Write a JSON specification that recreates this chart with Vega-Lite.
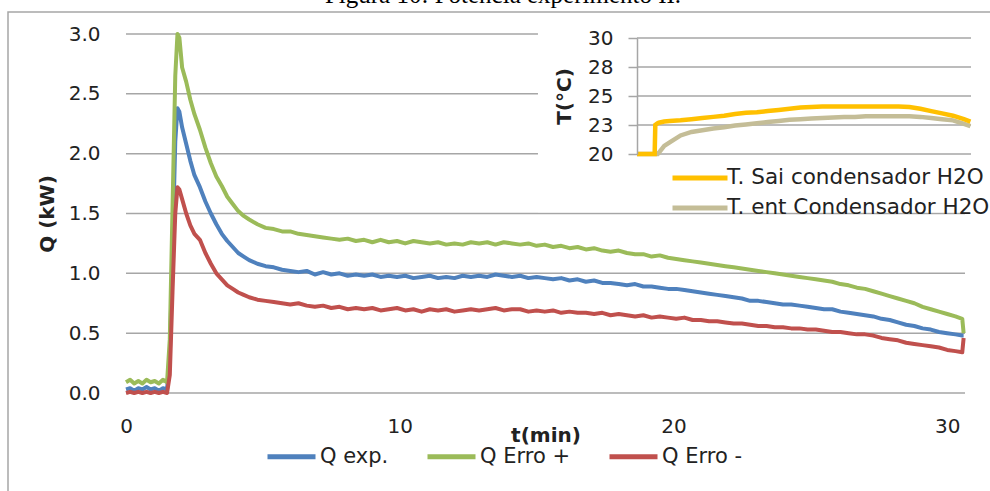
{
  "$schema": "https://vega.github.io/schema/vega-lite/v6.json",
  "width": 990,
  "height": 491,
  "autosize": "none",
  "padding": {"left": 8, "top": 12, "right": -8, "bottom": -12},
  "background": "white",
  "title": {"text": "Figura 10: Potência experimento II.", "font": "Liberation Serif", "fontSize": 25, "fontWeight": "normal", "color": "#000000", "frame": "group", "anchor": "middle", "offset": 0, "dy": 16, "baseline": "alphabetic"},
  "config": {
    "view": {"stroke": "#a6a6a6", "strokeWidth": 1.5},
    "font": "DejaVu Sans",
    "axis": {"labelFont": "DejaVu Sans", "labelFontSize": 20, "labelColor": "#222222", "titleFont": "DejaVu Sans", "titleFontSize": 20, "titleColor": "#222222", "titleFontWeight": "bold"},
    "legend": {"labelFont": "DejaVu Sans", "labelFontSize": 21, "labelColor": "#222222", "labelLimit": 400}
  },
  "datasets": {
    "q": [
      {"t": 0.0, "e": 0.03, "p": 0.09, "m": 0.00},
      {"t": 0.15, "e": 0.04, "p": 0.11, "m": 0.01},
      {"t": 0.3, "e": 0.02, "p": 0.08, "m": 0.00},
      {"t": 0.45, "e": 0.04, "p": 0.10, "m": 0.01},
      {"t": 0.6, "e": 0.03, "p": 0.08, "m": 0.00},
      {"t": 0.75, "e": 0.05, "p": 0.11, "m": 0.01},
      {"t": 0.9, "e": 0.03, "p": 0.09, "m": 0.00},
      {"t": 1.05, "e": 0.04, "p": 0.10, "m": 0.01},
      {"t": 1.2, "e": 0.02, "p": 0.08, "m": 0.00},
      {"t": 1.35, "e": 0.04, "p": 0.11, "m": 0.01},
      {"t": 1.5, "e": 0.03, "p": 0.09, "m": 0.00},
      {"t": 1.6, "e": 0.30, "p": 0.45, "m": 0.15},
      {"t": 1.7, "e": 1.20, "p": 1.55, "m": 0.85},
      {"t": 1.8, "e": 2.10, "p": 2.65, "m": 1.50},
      {"t": 1.88, "e": 2.38, "p": 3.00, "m": 1.72},
      {"t": 1.95, "e": 2.35, "p": 2.97, "m": 1.70},
      {"t": 2.05, "e": 2.22, "p": 2.72, "m": 1.62},
      {"t": 2.2, "e": 2.08, "p": 2.60, "m": 1.50},
      {"t": 2.35, "e": 1.94, "p": 2.45, "m": 1.40},
      {"t": 2.5, "e": 1.82, "p": 2.33, "m": 1.33},
      {"t": 2.7, "e": 1.72, "p": 2.20, "m": 1.28},
      {"t": 2.9, "e": 1.60, "p": 2.05, "m": 1.17},
      {"t": 3.1, "e": 1.50, "p": 1.92, "m": 1.08},
      {"t": 3.3, "e": 1.41, "p": 1.81, "m": 1.00},
      {"t": 3.5, "e": 1.33, "p": 1.73, "m": 0.95},
      {"t": 3.7, "e": 1.27, "p": 1.64, "m": 0.90},
      {"t": 3.9, "e": 1.22, "p": 1.58, "m": 0.87},
      {"t": 4.1, "e": 1.17, "p": 1.52, "m": 0.84},
      {"t": 4.3, "e": 1.14, "p": 1.48, "m": 0.82},
      {"t": 4.5, "e": 1.11, "p": 1.45, "m": 0.80},
      {"t": 4.8, "e": 1.08, "p": 1.41, "m": 0.78},
      {"t": 5.1, "e": 1.06, "p": 1.38, "m": 0.77},
      {"t": 5.4, "e": 1.05, "p": 1.37, "m": 0.76},
      {"t": 5.7, "e": 1.03, "p": 1.35, "m": 0.75},
      {"t": 6.0, "e": 1.02, "p": 1.35, "m": 0.74},
      {"t": 6.3, "e": 1.01, "p": 1.33, "m": 0.75},
      {"t": 6.6, "e": 1.02, "p": 1.32, "m": 0.73},
      {"t": 6.9, "e": 0.99, "p": 1.31, "m": 0.72},
      {"t": 7.2, "e": 1.01, "p": 1.30, "m": 0.73},
      {"t": 7.5, "e": 0.99, "p": 1.29, "m": 0.71},
      {"t": 7.8, "e": 1.00, "p": 1.28, "m": 0.72},
      {"t": 8.1, "e": 0.98, "p": 1.29, "m": 0.70},
      {"t": 8.4, "e": 0.99, "p": 1.27, "m": 0.71},
      {"t": 8.7, "e": 0.98, "p": 1.28, "m": 0.70},
      {"t": 9.0, "e": 0.99, "p": 1.26, "m": 0.71},
      {"t": 9.3, "e": 0.97, "p": 1.28, "m": 0.69},
      {"t": 9.6, "e": 0.98, "p": 1.26, "m": 0.70},
      {"t": 9.9, "e": 0.97, "p": 1.27, "m": 0.71},
      {"t": 10.2, "e": 0.98, "p": 1.25, "m": 0.69},
      {"t": 10.5, "e": 0.96, "p": 1.27, "m": 0.70},
      {"t": 10.8, "e": 0.97, "p": 1.26, "m": 0.68},
      {"t": 11.1, "e": 0.98, "p": 1.25, "m": 0.70},
      {"t": 11.4, "e": 0.96, "p": 1.26, "m": 0.69},
      {"t": 11.7, "e": 0.97, "p": 1.24, "m": 0.70},
      {"t": 12.0, "e": 0.96, "p": 1.25, "m": 0.68},
      {"t": 12.3, "e": 0.98, "p": 1.24, "m": 0.69},
      {"t": 12.6, "e": 0.97, "p": 1.26, "m": 0.70},
      {"t": 12.9, "e": 0.98, "p": 1.25, "m": 0.69},
      {"t": 13.2, "e": 0.97, "p": 1.26, "m": 0.70},
      {"t": 13.5, "e": 0.99, "p": 1.24, "m": 0.71},
      {"t": 13.8, "e": 0.98, "p": 1.26, "m": 0.69},
      {"t": 14.1, "e": 0.97, "p": 1.25, "m": 0.70},
      {"t": 14.4, "e": 0.98, "p": 1.24, "m": 0.70},
      {"t": 14.7, "e": 0.96, "p": 1.25, "m": 0.68},
      {"t": 15.0, "e": 0.97, "p": 1.23, "m": 0.69},
      {"t": 15.3, "e": 0.96, "p": 1.24, "m": 0.68},
      {"t": 15.6, "e": 0.95, "p": 1.22, "m": 0.69},
      {"t": 15.9, "e": 0.96, "p": 1.23, "m": 0.67},
      {"t": 16.2, "e": 0.94, "p": 1.21, "m": 0.68},
      {"t": 16.5, "e": 0.95, "p": 1.22, "m": 0.67},
      {"t": 16.8, "e": 0.93, "p": 1.20, "m": 0.67},
      {"t": 17.1, "e": 0.94, "p": 1.21, "m": 0.66},
      {"t": 17.4, "e": 0.92, "p": 1.19, "m": 0.67},
      {"t": 17.7, "e": 0.92, "p": 1.18, "m": 0.65},
      {"t": 18.0, "e": 0.91, "p": 1.19, "m": 0.66},
      {"t": 18.3, "e": 0.90, "p": 1.17, "m": 0.65},
      {"t": 18.6, "e": 0.91, "p": 1.16, "m": 0.64},
      {"t": 18.9, "e": 0.89, "p": 1.16, "m": 0.65},
      {"t": 19.2, "e": 0.89, "p": 1.14, "m": 0.63},
      {"t": 19.5, "e": 0.88, "p": 1.15, "m": 0.64},
      {"t": 19.8, "e": 0.87, "p": 1.13, "m": 0.63},
      {"t": 20.1, "e": 0.87, "p": 1.12, "m": 0.62},
      {"t": 20.4, "e": 0.86, "p": 1.11, "m": 0.63},
      {"t": 20.7, "e": 0.85, "p": 1.10, "m": 0.61},
      {"t": 21.0, "e": 0.84, "p": 1.09, "m": 0.61},
      {"t": 21.3, "e": 0.83, "p": 1.08, "m": 0.60},
      {"t": 21.6, "e": 0.82, "p": 1.07, "m": 0.60},
      {"t": 21.9, "e": 0.81, "p": 1.06, "m": 0.59},
      {"t": 22.2, "e": 0.80, "p": 1.05, "m": 0.58},
      {"t": 22.5, "e": 0.79, "p": 1.04, "m": 0.58},
      {"t": 22.8, "e": 0.77, "p": 1.03, "m": 0.57},
      {"t": 23.1, "e": 0.77, "p": 1.02, "m": 0.56},
      {"t": 23.4, "e": 0.76, "p": 1.01, "m": 0.56},
      {"t": 23.7, "e": 0.75, "p": 1.00, "m": 0.55},
      {"t": 24.0, "e": 0.74, "p": 0.99, "m": 0.55},
      {"t": 24.3, "e": 0.74, "p": 0.98, "m": 0.54},
      {"t": 24.6, "e": 0.73, "p": 0.97, "m": 0.54},
      {"t": 24.9, "e": 0.72, "p": 0.96, "m": 0.53},
      {"t": 25.2, "e": 0.71, "p": 0.95, "m": 0.53},
      {"t": 25.5, "e": 0.70, "p": 0.94, "m": 0.52},
      {"t": 25.8, "e": 0.70, "p": 0.93, "m": 0.51},
      {"t": 26.1, "e": 0.68, "p": 0.91, "m": 0.51},
      {"t": 26.4, "e": 0.67, "p": 0.90, "m": 0.50},
      {"t": 26.7, "e": 0.66, "p": 0.88, "m": 0.49},
      {"t": 27.0, "e": 0.65, "p": 0.87, "m": 0.49},
      {"t": 27.3, "e": 0.64, "p": 0.85, "m": 0.48},
      {"t": 27.6, "e": 0.62, "p": 0.83, "m": 0.46},
      {"t": 27.9, "e": 0.61, "p": 0.81, "m": 0.45},
      {"t": 28.2, "e": 0.59, "p": 0.79, "m": 0.44},
      {"t": 28.5, "e": 0.57, "p": 0.77, "m": 0.42},
      {"t": 28.8, "e": 0.56, "p": 0.75, "m": 0.41},
      {"t": 29.1, "e": 0.54, "p": 0.72, "m": 0.40},
      {"t": 29.4, "e": 0.53, "p": 0.70, "m": 0.39},
      {"t": 29.7, "e": 0.51, "p": 0.68, "m": 0.38},
      {"t": 30.0, "e": 0.50, "p": 0.66, "m": 0.36},
      {"t": 30.3, "e": 0.49, "p": 0.64, "m": 0.35},
      {"t": 30.55, "e": 0.48, "p": 0.62, "m": 0.34},
      {"t": 30.6, "e": 0.48, "p": 0.50, "m": 0.46}
    ],
    "qg": [{"g": 0}, {"g": 0.5}, {"g": 1}, {"g": 1.5}, {"g": 2}, {"g": 2.5}, {"g": 3}],
    "tt": [
      {"t": 0, "s": 20.0, "n": 20.0},
      {"t": 1.5, "s": 20.0, "n": 20.0},
      {"t": 1.62, "s": 20.0, "n": 20.0},
      {"t": 1.68, "s": 22.5, "n": 20.0},
      {"t": 1.9, "s": 22.65, "n": 20.0},
      {"t": 2.0, "s": 22.7, "n": 20.1},
      {"t": 2.5, "s": 22.8, "n": 20.7},
      {"t": 3.0, "s": 22.85, "n": 21.0},
      {"t": 4, "s": 22.9, "n": 21.6},
      {"t": 5, "s": 23.0, "n": 21.9},
      {"t": 6, "s": 23.1, "n": 22.05},
      {"t": 7, "s": 23.2, "n": 22.2},
      {"t": 8, "s": 23.3, "n": 22.3},
      {"t": 9, "s": 23.45, "n": 22.45},
      {"t": 10, "s": 23.55, "n": 22.55},
      {"t": 11, "s": 23.6, "n": 22.65},
      {"t": 12, "s": 23.7, "n": 22.75},
      {"t": 13, "s": 23.8, "n": 22.85},
      {"t": 14, "s": 23.9, "n": 22.95},
      {"t": 15, "s": 24.0, "n": 23.0},
      {"t": 16, "s": 24.05, "n": 23.05},
      {"t": 17, "s": 24.1, "n": 23.1},
      {"t": 18, "s": 24.1, "n": 23.15},
      {"t": 19, "s": 24.1, "n": 23.2},
      {"t": 20, "s": 24.1, "n": 23.2},
      {"t": 21, "s": 24.1, "n": 23.25},
      {"t": 22, "s": 24.1, "n": 23.25},
      {"t": 23, "s": 24.1, "n": 23.25},
      {"t": 24, "s": 24.1, "n": 23.25},
      {"t": 25, "s": 24.05, "n": 23.25},
      {"t": 26, "s": 23.9, "n": 23.2},
      {"t": 27, "s": 23.7, "n": 23.1},
      {"t": 28, "s": 23.5, "n": 23.0},
      {"t": 29, "s": 23.3, "n": 22.9},
      {"t": 30, "s": 23.0, "n": 22.6},
      {"t": 30.6, "s": 22.8, "n": 22.4}
    ],
    "tg": [{"g": 20}, {"g": 22.5}, {"g": 25}, {"g": 27.5}, {"g": 30}]
  },
  "layer": [
    {
      "layer": [
        {
          "data": {"name": "qg"},
          "mark": {"type": "rule", "color": "#a6a6a6", "strokeWidth": 1.5},
          "encoding": {
            "y": {"field": "g", "type": "quantitative"},
            "x": {"datum": 0},
            "x2": {"datum": 30.65}
          }
        },
        {
          "data": {"values": [{"r": 1}]},
          "mark": {"type": "rect", "fill": "white", "stroke": null},
          "encoding": {
            "x": {"datum": 15.05},
            "x2": {"datum": 31.5},
            "y": {"datum": 1.51},
            "y2": {"datum": 3.15}
          }
        },
        {
          "data": {"name": "q"},
          "transform": [{"fold": ["e", "p", "m"], "as": ["s", "v"]}],
          "mark": {"type": "line", "strokeWidth": 4, "strokeJoin": "round"},
          "encoding": {
            "x": {"field": "t", "type": "quantitative",
              "scale": {"domain": [0, 30.65], "range": [118, 957], "nice": false, "zero": false},
              "axis": {"title": "t(min)", "orient": "bottom", "offset": -110, "values": [0, 10, 20, 30], "domain": false, "ticks": false, "grid": false, "labelPadding": 23, "labelBaseline": "top", "labelFlush": false, "titleY": 42, "titleBaseline": "middle", "zindex": 1}},
            "y": {"field": "v", "type": "quantitative",
              "scale": {"domain": [0, 3], "range": [381, 22], "nice": false, "zero": false},
              "axis": {"title": "Q (kW)", "orient": "left", "offset": -118, "values": [0, 0.5, 1, 1.5, 2, 2.5, 3], "format": ".1f", "domain": false, "ticks": false, "grid": false, "labelPadding": 26, "titleX": -79, "titleAngle": -90, "titleBaseline": "middle", "zindex": 1}},
            "color": {"field": "s", "type": "nominal",
              "scale": {"domain": ["e", "p", "m"], "range": ["#4F81BD", "#9BBB59", "#C0504D"]},
              "legend": {"title": null, "orient": "none", "legendX": 257, "legendY": 418, "direction": "horizontal", "symbolType": "stroke", "symbolSize": 2304, "symbolStrokeWidth": 5, "labelOffset": 2, "columnPadding": 28, "padding": 0,
                "labelExpr": "datum.label == 'e' ? 'Q exp.' : datum.label == 'p' ? 'Q Erro +' : 'Q Erro -'"}}
          }
        }
      ]
    },
    {
      "layer": [
        {
          "data": {"name": "tg"},
          "mark": {"type": "rule", "color": "#a6a6a6", "strokeWidth": 1.5},
          "encoding": {
            "y": {"field": "g", "type": "quantitative"},
            "x": {"datum": 0, "axis": null},
            "x2": {"datum": 30.65}
          }
        },
        {
          "data": {"name": "tt"},
          "mark": {"type": "line", "strokeWidth": 4.5},
          "encoding": {
            "x": {"field": "t", "type": "quantitative",
              "scale": {"domain": [0, 30.65], "range": [629, 963], "nice": false, "zero": false},
              "axis": null},
            "y": {"field": "n", "type": "quantitative",
              "scale": {"domain": [20, 30], "range": [142, 26], "nice": false, "zero": false},
              "axis": {"title": "T(°C)", "orient": "left", "offset": -629, "values": [20, 22.5, 25, 27.5, 30], "format": ".0f", "domain": true, "domainColor": "#a6a6a6", "domainWidth": 1.5, "ticks": true, "tickSize": 9, "tickColor": "#a6a6a6", "tickWidth": 1.5, "grid": false, "labelPadding": 15, "titleX": -73, "titleAngle": -90, "titleBaseline": "middle", "zindex": 1}},
            "stroke": {"datum": "T. ent Condensador H2O",
              "scale": {"range": ["#C4BD97"]},
              "legend": {"title": null, "orient": "none", "legendX": 662, "legendY": 166, "symbolType": "stroke", "symbolSize": 3025, "symbolStrokeWidth": 5, "labelOffset": -3, "labelFontSize": 21.5, "padding": 0}}
          }
        },
        {
          "data": {"name": "tt"},
          "mark": {"type": "line", "strokeWidth": 4.5},
          "encoding": {
            "x": {"field": "t", "type": "quantitative"},
            "y": {"field": "s", "type": "quantitative"},
            "color": {"datum": "T. Sai condensador H2O",
              "scale": {"range": ["#FFC000"]},
              "legend": {"title": null, "orient": "none", "legendX": 662, "legendY": 136, "symbolType": "stroke", "symbolSize": 3025, "symbolStrokeWidth": 5, "labelOffset": -3, "labelFontSize": 21.5, "padding": 0}}
          }
        }
      ]
    }
  ],
  "resolve": {
    "scale": {"x": "independent", "y": "independent", "color": "independent"},
    "axis": {"x": "independent", "y": "independent"},
    "legend": {"color": "independent"}
  }
}
